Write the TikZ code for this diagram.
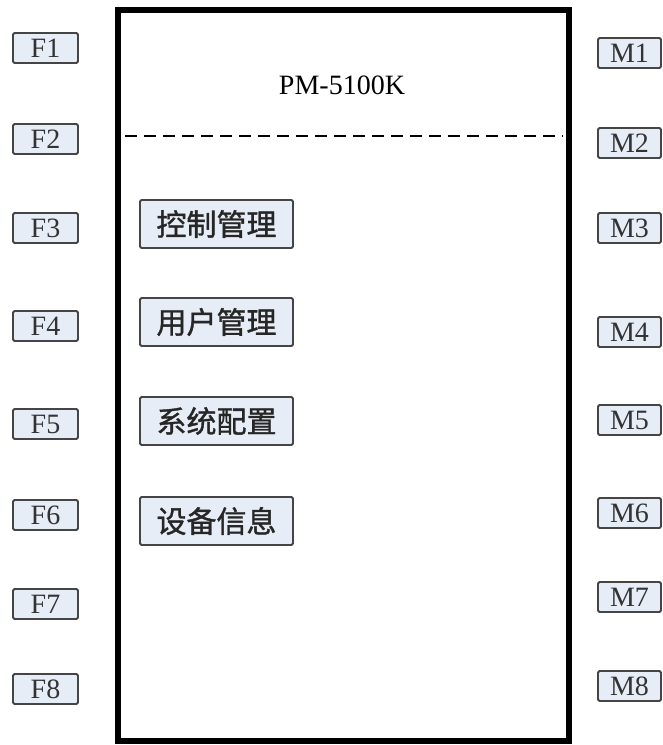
\documentclass[tikz,border=0pt]{standalone}
\usepackage{fontspec}
\setmainfont{Liberation Serif}
\newfontfamily\cjk[FakeBold=1.2]{Noto Sans CJK SC}
\definecolor{boxfill}{HTML}{E7EDF7}
\definecolor{boxline}{HTML}{454545}
\definecolor{porttext}{HTML}{333333}
\begin{document}
\begin{tikzpicture}[x=1pt,y=-1pt,
  port/.style={draw=boxline, fill=boxfill, line width=1.8pt, rounded corners=1.5pt,
    minimum width=65pt, minimum height=30pt, inner sep=0pt, text=porttext,
    font=\fontsize{28}{28}\selectfont},
  mport/.style={port, minimum width=63pt},
  func/.style={draw=boxline, fill=boxfill, line width=1.8pt, rounded corners=1.5pt,
    minimum width=153pt, minimum height=48pt, inner sep=0pt, text=black!85,
    font=\cjk\fontsize{30}{30}\selectfont}]
\useasboundingbox (0,0) rectangle (662,745);
% main frame
\node[draw, line width=6pt, minimum width=451pt, minimum height=731pt, inner sep=0pt] (main) at (343.5,375.5) {};
\node[font=\fontsize{28}{28}\selectfont] (title) at (342,85) {PM-5100K};
\coordinate (dl) at (125,136);
\coordinate (dr) at (563,136);
\draw[line width=2.5pt, dash pattern=on 12pt off 7pt] (dl) -- (dr);
% function boxes
\node[func] (f1) at (216.5,224) {控制管理};
\node[func] (f2) at (216.5,322) {用户管理};
\node[func] (f3) at (216.5,421) {系统配置};
\node[func] (f4) at (216.5,521) {设备信息};
% F ports
\node[port] (F1) at (45.5,48) {F1};
\node[port] (F2) at (45.5,139) {F2};
\node[port] (F3) at (45.5,228) {F3};
\node[port] (F4) at (45.5,326) {F4};
\node[port] (F5) at (45.5,424) {F5};
\node[port] (F6) at (45.5,515) {F6};
\node[port] (F7) at (45.5,604) {F7};
\node[port] (F8) at (45.5,689) {F8};
% M ports
\node[mport] (M1) at (629.5,53) {M1};
\node[mport] (M2) at (629.5,143) {M2};
\node[mport] (M3) at (629.5,228) {M3};
\node[mport] (M4) at (629.5,332) {M4};
\node[mport] (M5) at (629.5,420) {M5};
\node[mport] (M6) at (629.5,513) {M6};
\node[mport] (M7) at (629.5,597) {M7};
\node[mport] (M8) at (629.5,686) {M8};
\end{tikzpicture}
\end{document}
